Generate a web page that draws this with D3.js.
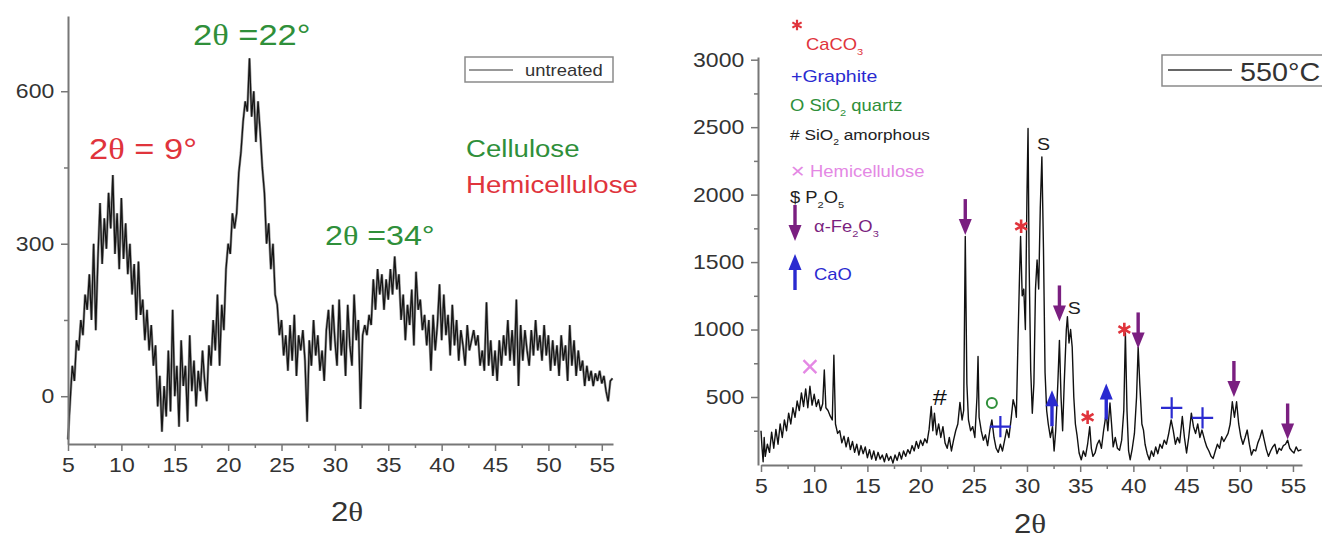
<!DOCTYPE html>
<html lang="en">
<head>
<meta charset="UTF-8">
<title>XRD patterns</title>
<script src="https://d3js.org/d3.v7.min.js"></script>
<style>
  body { margin: 0; background: #fff; }
  svg { display: block; font-family: "Liberation Sans", Arial, sans-serif; }
</style>
</head>
<body>
<script>
// ---- left panel: untreated (constant scan step) ----
const leftStart = 5, leftStep = 0.2;
const leftCounts = [
  -85, -10, 60, 30, 110, 90, 150, 120, 200, 170,
  240, 150, 300, 130, 270, 380, 260, 350, 290, 400,
  330, 435, 280, 360, 250, 390, 270, 340, 240, 300,
  200, 260, 150, 265, 160, 190, 110, 170, 90, 140,
  60, 100, -20, 40, -70, 20, -40, 90, -30, 170,
  0, 60, -60, 110, 20, 60, -50, 120, 10, 70,
  -20, 50, 10, 90, 30, -10, 100, 60, 150, 90,
  200, 60, 180, 130, 250, 300, 280, 360, 330, 360,
  440, 480, 540, 580, 560, 665, 550, 600, 500, 580,
  520, 450, 400, 300, 340, 250, 300, 200, 180, 120,
  150, 80, 120, 50, 140, 70, 160, 40, 120, 90,
  130, 70, -50, 110, 60, 150, 80, 120, 50, 90,
  30, 130, 170, 90, 180, 110, 60, 190, 80, 130,
  40, 180, 100, 60, 200, 110, 150, -25, 120, 140,
  120, 160, 140, 230, 170, 250, 200, 240, 170, 230,
  190, 250, 200, 275, 210, 240, 150, 200, 110, 180,
  140, 210, 100, 245, 170, 190, 130, 160, 100, 150,
  50, 160, 90, 140, 220, 110, 200, 120, 160, 80,
  180, 100, 150, 70, 130, 100, 60, 140, 90, 110,
  130, 100, 120, 60, 90, 50, 185, 60, 110, 40,
  90, 30, 110, 60, 120, 80, 150, 70, 130, 60,
  190, 20, 140, 70, 130, 90, 60, 130, 80, 150,
  90, 120, 70, 140, 80, 120, 50, 110, 60, 100,
  40, 120, 70, 100, 30, 140, 60, 110, 40, 90,
  50, 70, 20, 60, 30, 50, 20, 45, 30, 50,
  25, 40, 10, -10, 30, 35
];
const leftXTicks = [5, 10, 15, 20, 25, 30, 35, 40, 45, 50, 55];
const leftXMinor = [7.5, 12.5, 17.5, 22.5, 27.5, 32.5, 37.5, 42.5, 47.5, 52.5];
const leftYTicks = [0, 300, 600];
const leftYMinor = [150, 450];

// ---- right panel: 550°C ----
const rightTheta = [
  5.0, 5.1, 5.2, 5.3, 5.4, 5.6, 5.8, 6.0, 6.2, 6.4,
  6.6, 6.8, 7.0, 7.2, 7.4, 7.6, 7.8, 8.0, 8.2, 8.4,
  8.6, 8.8, 9.0, 9.2, 9.4, 9.6, 9.8, 10.0, 10.2, 10.4,
  10.6, 10.8, 10.95, 11.1, 11.3, 11.5, 11.7, 11.85, 12.0, 12.2,
  12.4, 12.6, 12.8, 13.0, 13.2, 13.4, 13.6, 13.8, 14.0, 14.2,
  14.4, 14.6, 14.8, 15.0, 15.2, 15.4, 15.6, 15.8, 16.0, 16.2,
  16.4, 16.6, 16.8, 17.0, 17.2, 17.4, 17.6, 17.8, 18.0, 18.2,
  18.4, 18.6, 18.8, 19.0, 19.2, 19.4, 19.6, 19.8, 20.0, 20.2,
  20.4, 20.6, 20.8, 21.0, 21.15, 21.3, 21.5, 21.7, 21.9, 22.1,
  22.3, 22.5, 22.7, 22.9, 23.1, 23.3, 23.5, 23.7, 23.9, 24.05,
  24.2, 24.35, 24.5, 24.7, 24.9, 25.1, 25.3, 25.4, 25.5, 25.7,
  25.9, 26.1, 26.3, 26.5, 26.7, 26.9, 27.1, 27.3, 27.5, 27.7,
  27.9, 28.1, 28.3, 28.5, 28.7, 28.9, 29.0, 29.15, 29.3, 29.4,
  29.55, 29.7, 29.85, 30.0, 30.1, 30.2, 30.35, 30.5, 30.65, 30.8,
  30.95, 31.1, 31.25, 31.4, 31.55, 31.7, 31.85, 32.0, 32.2, 32.4,
  32.55, 32.7, 32.9, 33.05, 33.2, 33.35, 33.5, 33.7, 33.8, 33.95,
  34.1, 34.25, 34.4, 34.55, 34.7, 34.9, 35.1, 35.3, 35.5, 35.7,
  35.9, 36.05, 36.2, 36.4, 36.6, 36.8, 37.0, 37.2, 37.45, 37.6,
  37.8, 37.95, 38.1, 38.3, 38.5, 38.7, 38.9, 39.1, 39.25, 39.4,
  39.55, 39.7, 39.9, 40.1, 40.3, 40.45, 40.6, 40.8, 40.95, 41.1,
  41.3, 41.5, 41.7, 41.9, 42.1, 42.3, 42.5, 42.7, 42.9, 43.1,
  43.3, 43.55, 43.75, 43.95, 44.15, 44.35, 44.6, 44.8, 45.0, 45.2,
  45.45, 45.65, 45.85, 46.05, 46.25, 46.45, 46.7, 46.9, 47.1, 47.3,
  47.5, 47.7, 47.9, 48.1, 48.3, 48.5, 48.7, 48.9, 49.1, 49.3,
  49.5, 49.7, 49.9, 50.1, 50.3, 50.5, 50.7, 50.9, 51.1, 51.3,
  51.5, 51.7, 51.9, 52.1, 52.3, 52.5, 52.7, 52.9, 53.1, 53.3,
  53.5, 53.7, 53.9, 54.1, 54.3, 54.5, 54.7, 54.9, 55.1, 55.3,
  55.5, 55.8
];
const rightCounts = [
  250, 120, 20, 200, 60, 150, 90, 240, 120, 260,
  150, 300, 200, 330, 250, 380, 300, 420, 350, 470,
  400, 530, 430, 560, 420, 580, 440, 520, 430, 480,
  400, 450, 700, 420, 400, 360, 330, 810, 300, 230,
  250, 160, 210, 130, 200, 110, 170, 90, 150, 70,
  140, 80, 130, 50, 110, 40, 100, 30, 90, 40,
  70, 20, 80, 30, 60, 10, 70, 30, 90, 40,
  100, 60, 110, 80, 140, 100, 170, 120, 180, 140,
  190, 160, 260, 430, 250, 380, 220, 300, 200, 280,
  160, 120, 200, 100, 180, 250, 300, 460, 330, 400,
  1690, 600, 330, 250, 280, 200, 500, 800, 350, 250,
  180, 220, 140, 250, 330, 200, 120, 90, 150, 100,
  180, 260, 200, 330, 480, 420, 350, 900, 1400, 1690,
  1250, 1300, 1000, 2000, 2490, 1500, 700, 380, 600, 1300,
  1515, 1300, 1900, 2280, 1600, 680, 400, 300, 200, 280,
  100, 250, 600, 920, 500, 250, 600, 1000, 1095, 900,
  1000, 870, 500, 300, 220, 85, 35, 100, 60, 150,
  280, 120, 60, 85, 150, 180, 120, 250, 380, 250,
  455, 300, 130, 200, 120, 105, 180, 400, 975, 400,
  100, 35, 120, 230, 500, 870, 600, 300, 255, 150,
  80, 35, 100, 60, 130, 80, 150, 120, 180, 150,
  220, 330, 250, 150, 200, 160, 355, 200, 85, 200,
  380, 280, 230, 300, 200, 255, 180, 130, 100, 60,
  45, 100, 150, 120, 205, 170, 200, 230, 300, 465,
  350, 465, 300, 205, 150, 200, 255, 150, 70, 110,
  100, 160, 200, 255, 180, 110, 60, 100, 130, 150,
  80, 120, 105, 140, 150, 180, 120, 100, 85, 130,
  100, 110
];
const rightXTicks = [5, 10, 15, 20, 25, 30, 35, 40, 45, 50, 55];
const rightXMinor = [7.5, 12.5, 17.5, 22.5, 27.5, 32.5, 37.5, 42.5, 47.5, 52.5];
const rightYTicks = [500, 1000, 1500, 2000, 2500, 3000];
const rightYMinor = [250, 750, 1250, 1750, 2250, 2750];

// phase markers on the 550°C pattern: [2θ, counts]
const fe2o3Arrows = [[24.2, 1700], [33.05, 1060], [40.45, 860], [49.45, 500], [54.5, 185]];
const caoArrows = [[32.35, 550], [37.45, 600]];
const caco3Stars = [[29.45, 1765], [35.7, 350], [39.15, 1000]];
const graphitePlus = [[27.5, 280], [43.6, 420], [46.5, 345]];
const quartzRings = [[26.7, 455]];
const amorphHash = [[21.8, 500]];
const hemiCross = [[9.6, 725]];
const p2o5Marks = [[31.55, 2385], [34.45, 1170]];

const GREEN = "#2f8f3a", RED = "#e0343c", BLUE = "#2a2ad0",
      PINK = "#e488e4", PURPLE = "#7a1f80", AXIS = "#777";
const SX = 1.15; // text in the source figure is a bit wide

const svg = d3.select("body").append("svg")
    .attr("width", 1322)
    .attr("height", 538);

// text with optional subscripts / serif theta
function rich(parent, x, y, parts, size, fill, anchor) {
  const t = parent.append("text")
      .attr("transform", "translate(" + x + "," + y + ") scale(" + SX + ",1)")
      .attr("font-size", size)
      .attr("fill", fill)
      .attr("text-anchor", anchor || "start");
  let down = false;
  parts.forEach(function(p) {
    const s = typeof p === "string" ? {t: p} : p;
    const ts = t.append("tspan").text(s.t);
    if (s.sub) {
      ts.attr("font-size", size * 0.6);
      if (!down) { ts.attr("dy", size * 0.3); down = true; }
    } else if (down) {
      ts.attr("dy", -size * 0.3); down = false;
    }
    if (s.serif) ts.attr("font-family", "'Liberation Serif', serif");
  });
  return t;
}

function styleAxis(g, size) {
  g.select(".domain").attr("stroke", AXIS).attr("stroke-width", 2);
  g.selectAll(".tick line").attr("stroke", AXIS).attr("stroke-width", 1.5);
  g.selectAll(".tick text")
      .attr("font-size", size)
      .attr("fill", "#333")
      .attr("font-family", "'Liberation Sans', Arial, sans-serif");
}

function drawAxes(x, y, xt, xm, yt, ym, x0, y0) {
  const gx = svg.append("g").attr("transform", "translate(0," + y0 + ")")
      .call(d3.axisBottom(x).tickValues(xt).tickSize(7).tickSizeOuter(0).tickPadding(7)
        .tickFormat(d3.format("d")));
  styleAxis(gx, 20);
  gx.selectAll(".tick text").attr("transform", "scale(" + SX + ",1)");
  const gxm = svg.append("g").attr("transform", "translate(0," + y0 + ")")
      .call(d3.axisBottom(x).tickValues(xm).tickSize(4).tickSizeOuter(0).tickFormat(""));
  styleAxis(gxm, 20);
  gxm.select(".domain").remove();

  const gy = svg.append("g").attr("transform", "translate(" + x0 + ",0)")
      .call(d3.axisLeft(y).tickValues(yt).tickSize(7).tickSizeOuter(0).tickPadding(5)
        .tickFormat(d3.format("d")));
  styleAxis(gy, 20);
  gy.selectAll(".tick text").attr("transform", "scale(" + SX + ",1)");
  const gym = svg.append("g").attr("transform", "translate(" + x0 + ",0)")
      .call(d3.axisLeft(y).tickValues(ym).tickSize(4).tickSizeOuter(0).tickFormat(""));
  styleAxis(gym, 20);
  gym.select(".domain").remove();
}

// ================= LEFT =================
const xL = d3.scaleLinear().domain([5, 56.05]).range([68, 613]);
const yL = d3.scaleLinear().domain([-94, 748]).range([444, 16]);

const leftData = leftCounts.map(function(v, i) {
  return {t: leftStart + i * leftStep, c: v};
});

const lineL = d3.line().x(d => xL(d.t)).y(d => yL(d.c));

// soft grey halo under the trace, like the blurred scan in the source
svg.append("path")
    .datum(leftData)
    .attr("d", lineL)
    .attr("fill", "none")
    .attr("stroke", "#9a9a9a")
    .attr("stroke-width", 2.6)
    .attr("stroke-linejoin", "bevel");
svg.append("path")
    .datum(leftData)
    .attr("d", lineL)
    .attr("fill", "none")
    .attr("stroke", "#151515")
    .attr("stroke-width", 1.3)
    .attr("stroke-linejoin", "bevel");

drawAxes(xL, yL, leftXTicks, leftXMinor, leftYTicks, leftYMinor, 68, 444);

rich(svg, 331, 521, ["2", {t: "θ", serif: true}], 27, "#333");

// legend
svg.append("rect").attr("x", 465).attr("y", 57).attr("width", 148).attr("height", 25)
    .attr("fill", "#fff").attr("stroke", "#8a8a8a").attr("stroke-width", 1.5);
svg.append("line").attr("x1", 469).attr("x2", 513).attr("y1", 70).attr("y2", 70)
    .attr("stroke", "#333").attr("stroke-width", 1.2);
rich(svg, 525, 76, ["untreated"], 16, "#333");

// annotations
rich(svg, 193, 45, ["2", {t: "θ", serif: true}, " =22°"], 30, GREEN);
rich(svg, 89, 159, ["2", {t: "θ", serif: true}, " = 9°"], 30, RED);
rich(svg, 325, 245, ["2", {t: "θ", serif: true}, " =34°"], 28, GREEN);
rich(svg, 466, 157, ["Cellulose"], 24, GREEN);
rich(svg, 466, 193, ["Hemicellulose"], 24, RED);

// ================= RIGHT =================
const xR = d3.scaleLinear().domain([5, 55.85]).range([761, 1302]);
const yR = d3.scaleLinear().domain([-4, 3020]).range([465, 57]);

const rightData = rightTheta.map((t, i) => ({t: t, c: rightCounts[i]}));
const lineR = d3.line().x(d => xR(d.t)).y(d => yR(d.c));

svg.append("path")
    .datum(rightData)
    .attr("d", lineR)
    .attr("fill", "none")
    .attr("stroke", "#111")
    .attr("stroke-width", 1.4)
    .attr("stroke-linejoin", "round");

drawAxes(xR, yR, rightXTicks, rightXMinor, rightYTicks, rightYMinor, 758, 465);

rich(svg, 1014, 533, ["2", {t: "θ", serif: true}], 27, "#333");

// legend box (runs off the right edge as in the source)
svg.append("rect").attr("x", 1162).attr("y", 55).attr("width", 175).attr("height", 31)
    .attr("fill", "#fff").attr("stroke", "#8a8a8a").attr("stroke-width", 1.5);
svg.append("line").attr("x1", 1168).attr("x2", 1232).attr("y1", 70).attr("y2", 70)
    .attr("stroke", "#333").attr("stroke-width", 1.3);
rich(svg, 1240, 81, ["550°C"], 25, "#333");

// marker glyphs
function downArrow(g, x, yTip, color) {
  g.append("rect").attr("x", x - 1.7).attr("y", yTip - 36).attr("width", 3.4).attr("height", 24)
      .attr("fill", color);
  g.append("path")
      .attr("d", "M" + (x - 6.5) + "," + (yTip - 16) + "L" + (x + 6.5) + "," + (yTip - 16) + "L" + x + "," + yTip + "Z")
      .attr("fill", color);
}
function upArrow(g, x, yTip, color) {
  g.append("rect").attr("x", x - 1.7).attr("y", yTip + 12).attr("width", 3.4).attr("height", 24)
      .attr("fill", color);
  g.append("path")
      .attr("d", "M" + (x - 6.5) + "," + (yTip + 16) + "L" + (x + 6.5) + "," + (yTip + 16) + "L" + x + "," + yTip + "Z")
      .attr("fill", color);
}

const marks = svg.append("g");

fe2o3Arrows.forEach(d => downArrow(marks, xR(d[0]), yR(d[1]), PURPLE));
caoArrows.forEach(d => upArrow(marks, xR(d[0]), yR(d[1]), BLUE));

marks.selectAll(".star").data(caco3Stars).join("path")
    .attr("transform", d => "translate(" + xR(d[0]) + "," + yR(d[1]) + ")")
    .attr("d", d3.symbol(d3.symbolAsterisk, 130))
    .attr("fill", "none").attr("stroke", RED).attr("stroke-width", 2.6);

marks.selectAll(".plus").data(graphitePlus).join("path")
    .attr("transform", d => "translate(" + xR(d[0]) + "," + yR(d[1]) + ")")
    .attr("d", d3.symbol(d3.symbolPlus, 150))
    .attr("fill", "none").attr("stroke", BLUE).attr("stroke-width", 2.2);

marks.selectAll(".ring").data(quartzRings).join("circle")
    .attr("cx", d => xR(d[0])).attr("cy", d => yR(d[1])).attr("r", 5)
    .attr("fill", "none").attr("stroke", GREEN).attr("stroke-width", 2);

marks.selectAll(".cross").data(hemiCross).join("path")
    .attr("transform", d => "translate(" + xR(d[0]) + "," + yR(d[1]) + ")")
    .attr("d", d3.symbol(d3.symbolX, 110))
    .attr("fill", "none").attr("stroke", PINK).attr("stroke-width", 2.4);

amorphHash.forEach(d => rich(marks, xR(d[0]), yR(d[1]) + 8, ["#"], 22, "#111", "middle"));
p2o5Marks.forEach(d => rich(marks, xR(d[0]), yR(d[1]) + 7, ["S"], 17, "#222", "middle"));

// phase key, upper left of right panel
const key = svg.append("g");
key.append("path").attr("transform", "translate(797,25)")
    .attr("d", d3.symbol(d3.symbolAsterisk, 80))
    .attr("fill", "none").attr("stroke", RED).attr("stroke-width", 2.2);
rich(key, 806, 50, ["CaCO", {t: "3", sub: true}], 16, RED);
rich(key, 791, 82, ["+Graphite"], 17, BLUE);
rich(key, 790, 111, ["O SiO", {t: "2", sub: true}, " quartz"], 16, GREEN);
rich(key, 790, 140, ["# SiO", {t: "2", sub: true}, " amorphous"], 15, "#222");
rich(key, 790, 177, ["✕ Hemicellulose"], 16, PINK);
rich(key, 790, 203, ["$ P", {t: "2", sub: true}, "O", {t: "5", sub: true}], 16, "#222");
downArrow(key, 795, 241, PURPLE);
rich(key, 814, 232, ["α-Fe", {t: "2", sub: true}, "O", {t: "3", sub: true}], 16, PURPLE);
upArrow(key, 795, 254, BLUE);
rich(key, 814, 280, ["CaO"], 16, BLUE);
</script>
</body>
</html>
